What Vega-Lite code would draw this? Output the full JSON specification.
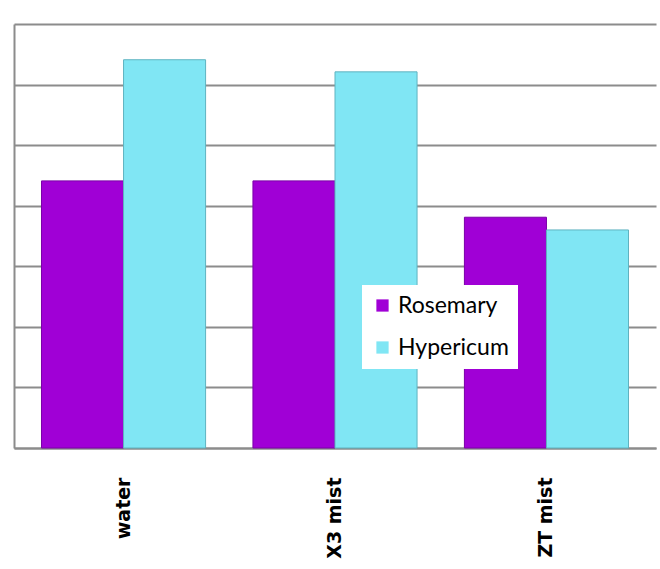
{
  "$schema": "https://vega.github.io/schema/vega-lite/v6.json",
  "width": 642,
  "height": 424,
  "autosize": {"type": "none"},
  "padding": {"left": 14, "top": 24, "right": 4, "bottom": 121},
  "background": "white",
  "data": {
    "values": [
      {"treatment": "water", "plant": "Rosemary", "value": 4.41},
      {"treatment": "water", "plant": "Hypericum", "value": 6.41},
      {"treatment": "X3 mist", "plant": "Rosemary", "value": 4.41},
      {"treatment": "X3 mist", "plant": "Hypericum", "value": 6.21},
      {"treatment": "ZT mist", "plant": "Rosemary", "value": 3.81},
      {"treatment": "ZT mist", "plant": "Hypericum", "value": 3.6}
    ]
  },
  "mark": {"type": "bar", "strokeWidth": 1},
  "encoding": {
    "x": {
      "field": "treatment",
      "type": "nominal",
      "sort": ["water", "X3 mist", "ZT mist"],
      "scale": {"paddingInner": 0.224, "paddingOuter": 0.13},
      "axis": {
        "title": null,
        "labelAngle": -90,
        "labelAlign": "right",
        "labelBaseline": "middle",
        "labelPadding": 29,
        "labelFont": "DejaVu Sans",
        "labelFontWeight": "bold",
        "labelFontSize": 19,
        "labelColor": "black",
        "ticks": false,
        "domainColor": "#8c8c8c",
        "domainWidth": 2
      }
    },
    "xOffset": {
      "field": "plant",
      "type": "nominal",
      "sort": ["Rosemary", "Hypericum"],
      "scale": {"paddingInner": 0, "paddingOuter": 0}
    },
    "y": {
      "field": "value",
      "type": "quantitative",
      "scale": {"domain": [0, 7], "nice": false},
      "axis": {
        "title": null,
        "labels": false,
        "ticks": false,
        "values": [0, 1, 2, 3, 4, 5, 6, 7],
        "grid": true,
        "gridColor": "#8c8c8c",
        "gridWidth": 2,
        "domainColor": "#8c8c8c",
        "domainWidth": 2
      }
    },
    "color": {
      "field": "plant",
      "type": "nominal",
      "sort": ["Rosemary", "Hypericum"],
      "scale": {"domain": ["Rosemary", "Hypericum"], "range": ["#a000d6", "#80e6f4"]},
      "legend": {
        "title": null,
        "orient": "none",
        "legendX": 348,
        "legendY": 261,
        "fillColor": "white",
        "padding": 9,
        "symbolType": "square",
        "symbolSize": 150,
        "symbolStrokeWidth": 0,
        "labelFont": "Lato",
        "labelFontSize": 23,
        "labelColor": "black",
        "labelOffset": 4,
        "rowPadding": 18
      }
    },
    "stroke": {
      "field": "plant",
      "type": "nominal",
      "scale": {"domain": ["Rosemary", "Hypericum"], "range": ["#7a00a8", "#5fb3c0"]},
      "legend": null
    }
  },
  "config": {"view": {"stroke": null}}
}
